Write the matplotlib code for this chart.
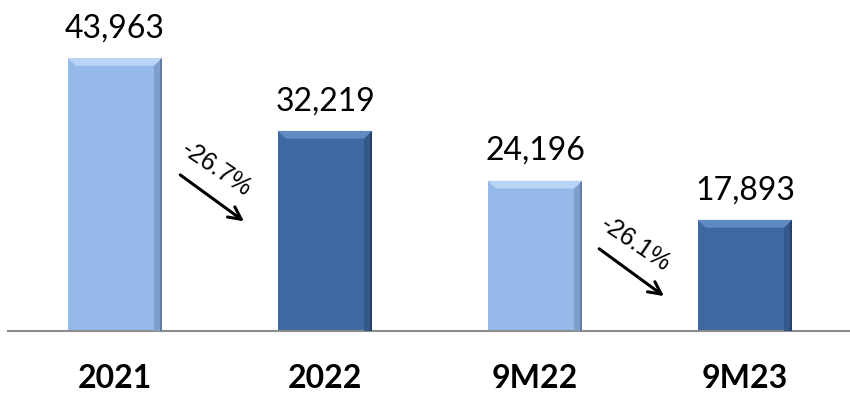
import matplotlib.pyplot as plt
from matplotlib.patches import Polygon
import numpy as np

# 数据
categories = ['2021', '2022', '9M22', '9M23']
values = [43963, 32219, 24196, 17893]
value_labels = ['43,963', '32,219', '24,196', '17,893']
change_labels = ['-26.7%', '-26.1%']
# 箭头位置 (起点x, 起点y, 终点x, 终点y), 文字位置
arrow_pos = [(0.30, 25400, 0.625, 17400), (2.295, 13500, 2.625, 5350)]
change_text_pos = [(0.485, 26000), (2.48, 13900)]

# 颜色: 主色, 上边高光, 右边阴影, 右边线
light = ['#95BAEA', '#BBD4F5', '#7E9FCC', '#5E7DA8']
dark = ['#3F68A0', '#5F8BC2', '#33598C', '#24426C']
bar_colors = [light, dark, light, dark]

fig = plt.figure(figsize=(8.5, 3.94), dpi=100)
ax = fig.add_axes([0, 63 / 394, 1, 331 / 394])

x = np.arange(len(categories))
bar_width = 0.452
bars = ax.bar(x, values, bar_width, color=[c[0] for c in bar_colors], zorder=2)

ax.set_xlim(-115 / 210, 735 / 210)
ax.set_ylim(0, 53300)

# 斜面效果
bev_x = 0.04
bev_y = 1250
for i, b in enumerate(bars):
    c = bar_colors[i]
    x0, w, h = b.get_x(), b.get_width(), b.get_height()
    x1 = x0 + w
    top = Polygon([(x0, h), (x1, h), (x1 - bev_x, h - bev_y), (x0 + bev_x, h - bev_y)],
                  closed=True, color=c[1], lw=0, zorder=3)
    right = Polygon([(x1, h), (x1, 0), (x1 - bev_x, 0), (x1 - bev_x, h - bev_y)],
                    closed=True, color=c[2], lw=0, zorder=3)
    edge = Polygon([(x1, h), (x1, 0), (x1 - 0.012, 0), (x1 - 0.012, h - 300)],
                   closed=True, color=c[3], lw=0, zorder=3)
    ax.add_patch(top)
    ax.add_patch(right)
    ax.add_patch(edge)
    ax.annotate(value_labels[i], (x0 + w / 2, h),
                xytext=(0, 15), textcoords='offset points', ha='center', va='baseline',
                fontsize=23, family='Lato', color='black')

# 变化箭头
for (sx, sy, ex, ey), (tx, ty), lab in zip(arrow_pos, change_text_pos, change_labels):
    ax.annotate('', xy=(ex, ey), xytext=(sx, sy),
                arrowprops=dict(arrowstyle='->,head_length=0.9,head_width=0.45', color='black', lw=2.2))
    ax.text(tx, ty, lab, rotation=-34, ha='center', va='center', fontsize=18,
            family='Liberation Sans', rotation_mode='anchor')

for s in ['top', 'right', 'left']:
    ax.spines[s].set_visible(False)
ax.spines['bottom'].set_color('#8C8C8C')
ax.spines['bottom'].set_linewidth(1.5)
ax.spines['bottom'].set_bounds(-107 / 210, 735 / 210)
ax.set_yticks([])
ax.set_xticks(x)
ax.set_xticklabels(categories, fontsize=23, fontweight='bold', family='Lato')
ax.tick_params(axis='x', length=0, pad=24)

plt.savefig('out.png', dpi=100)
